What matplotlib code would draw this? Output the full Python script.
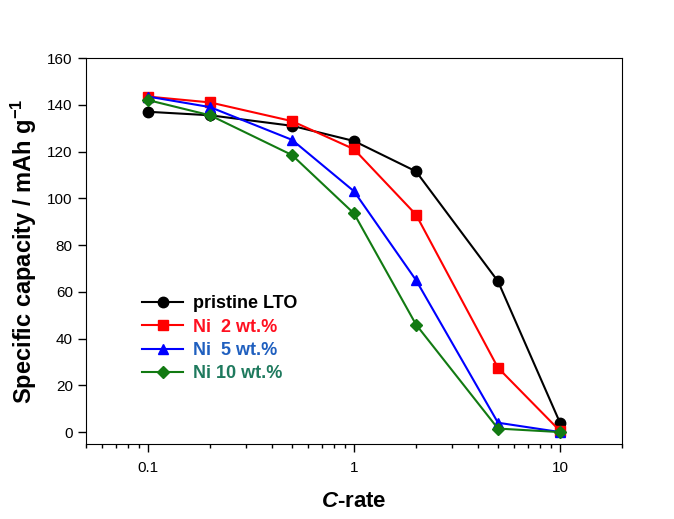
import matplotlib
matplotlib.use('Agg')
import matplotlib.pyplot as plt
from matplotlib.ticker import FixedLocator, NullFormatter, LogLocator

plt.rcParams['font.family'] = ['Liberation Sans', 'DejaVu Sans']
plt.rcParams['mathtext.fontset'] = 'custom'
plt.rcParams['mathtext.it'] = 'Liberation Sans:italic:bold'
plt.rcParams['mathtext.rm'] = 'Liberation Sans:bold'
plt.rcParams['mathtext.bf'] = 'Liberation Sans:bold'

c_rate = [0.1, 0.2, 0.5, 1, 2, 5, 10]
pristine = [137, 135.5, 131, 124.5, 111.5, 64.5, 4]
ni2 = [143.5, 141, 133, 121, 93, 27.5, 0.5]
ni5 = [143.5, 139, 125, 103, 65, 4, 0]
ni10 = [142, 135.5, 118.5, 93.5, 46, 1.5, 0]

labels = ['pristine LTO', 'Ni  2 wt.%', 'Ni  5 wt.%', 'Ni 10 wt.%']
line_colors = ['black', '#ff0000', '#0000ff', '#127a12']
text_colors = ['black', '#ff1020', '#1f5fbf', '#1f7a5e']
markers = ['o', 's', '^', 'D']
sizes = [7.5, 7.5, 7.5, 6.5]

fig = plt.figure(figsize=(6.74, 5.19), dpi=100)
ax = fig.add_axes([86/674, 75/519, 536/674, 386/519])

for y, lab, col, m, ms in zip([pristine, ni2, ni5, ni10], labels, line_colors, markers, sizes):
    ax.plot(c_rate, y, color=col, marker=m, markersize=ms, linewidth=1.5, label=lab)

ax.set_xscale('log')
ax.set_xlim(0.05, 20)
ax.set_ylim(-5.1, 160)
ax.set_yticks(range(0, 161, 20))
ax.xaxis.set_major_locator(FixedLocator([0.1, 1, 10]))
ax.set_xticklabels(['0.1', '1', '10'])
ax.xaxis.set_minor_locator(LogLocator(base=10, subs=range(2, 10), numticks=20))
ax.xaxis.set_minor_formatter(NullFormatter())
ax.tick_params(axis='both', which='major', direction='out', length=6, width=1, labelsize=11, top=False, right=False)
ax.tick_params(axis='x', which='minor', direction='out', length=3, width=1, top=False)
ax.tick_params(axis='x', which='major', pad=6)

ax.set_xlabel('$C$-rate', fontsize=16, fontweight='bold', labelpad=12)
ax.set_ylabel('Specific capacity / mAh g$^{-1}$', fontsize=17, fontweight='bold', labelpad=6)

leg = ax.legend(loc='upper left', bbox_to_anchor=(0.104, 0.385), frameon=False, handlelength=2.3,
                borderpad=0, borderaxespad=0,
                prop={'weight': 'bold', 'size': 13}, labelspacing=0.35, handletextpad=0.55)
for t, c in zip(leg.get_texts(), text_colors):
    t.set_color(c)

fig.savefig('out.png', dpi=100)
